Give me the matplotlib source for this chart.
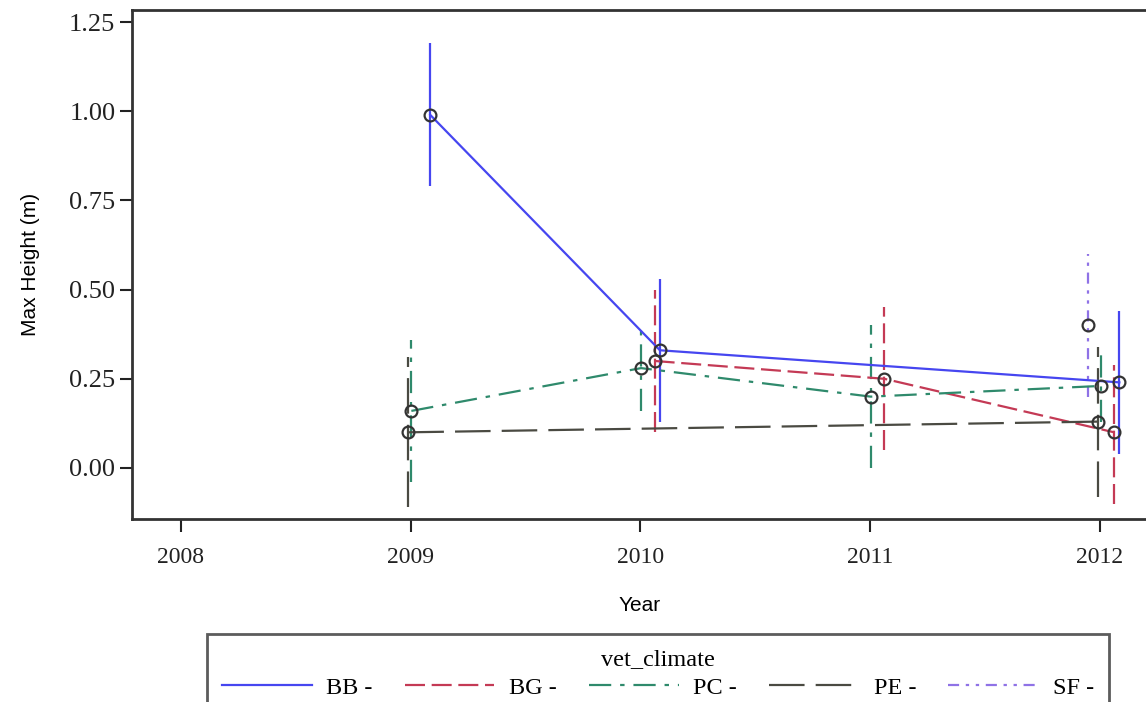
#!/usr/bin/env python3
"""Max height by year for each vet_climate group, with error bars."""

import matplotlib
matplotlib.use("Agg")
import matplotlib.pyplot as plt
from matplotlib.lines import Line2D

# Values
bb_years = [2009, 2010, 2012]
bb_mean = [0.99, 0.33, 0.24]
bb_low = [0.79, 0.13, 0.04]
bb_high = [1.19, 0.53, 0.44]

bg_years = [2010, 2011, 2012]
bg_mean = [0.30, 0.25, 0.10]
bg_low = [0.10, 0.05, -0.10]
bg_high = [0.50, 0.45, 0.29]

pc_years = [2009, 2010, 2011, 2012]
pc_mean = [0.16, 0.28, 0.20, 0.23]
pc_low = [-0.04, 0.16, 0.00, 0.13]
pc_high = [0.36, 0.39, 0.40, 0.33]

pe_years = [2009, 2012]
pe_mean = [0.10, 0.13]
pe_low = [-0.11, -0.08]
pe_high = [0.31, 0.34]

sf_years = [2012]
sf_mean = [0.40]
sf_low = [0.20]
sf_high = [0.60]

group_names = ["BB", "BG", "PC", "PE", "SF"]
year_ticks = [2008, 2009, 2010, 2011, 2012]
height_ticks = [0.00, 0.25, 0.50, 0.75, 1.00, 1.25]

# Styles: (colour, dash pattern, cluster offset in years)
styles = {
    "BB": ("#4646f0", "solid", 0.085),
    "BG": ("#c43a55", (0, (9, 3)), 0.062),
    "PC": ("#2f8a6c", (0, (10, 4, 2, 4)), 0.003),
    "PE": ("#4a4a42", (0, (16, 5)), -0.01),
    "SF": ("#8f72e6", (0, (5, 3, 1.5, 3, 1.5, 3)), -0.05),
}

series = {
    "BB": (bb_years, bb_mean, bb_low, bb_high),
    "BG": (bg_years, bg_mean, bg_low, bg_high),
    "PC": (pc_years, pc_mean, pc_low, pc_high),
    "PE": (pe_years, pe_mean, pe_low, pe_high),
    "SF": (sf_years, sf_mean, sf_low, sf_high),
}

SERIF = "Liberation Serif"
SANS = "Liberation Sans"

fig = plt.figure(figsize=(11.46, 7.02), dpi=100)
ax = fig.add_axes([0.1152, 0.2607, 0.8866, 0.7251])

for name in group_names:
    years, mean, low, high = series[name]
    color, ls, offset = styles[name]
    xs = [y + offset for y in years]
    ax.vlines(xs, low, high, colors=color, linestyles=[ls], linewidth=1.6, zorder=2)
    ax.plot(xs, mean, color=color, linestyle=ls, linewidth=1.6, zorder=3)
    ax.plot(xs, mean, linestyle="none", marker="o", markersize=8.5,
            fillstyle="none", markeredgecolor="#333333", markeredgewidth=1.6, zorder=4)

ax.set_xlim(2007.787, 2012.21)
ax.set_ylim(-0.143, 1.284)
ax.set_xticks(year_ticks)
ax.set_yticks(height_ticks)
ax.set_xticklabels([str(y) for y in year_ticks], fontfamily=SERIF, fontsize=17)
ax.set_yticklabels([f"{v:.2f}" for v in height_ticks], fontfamily=SERIF, fontsize=19)
ax.tick_params(axis="both", direction="out", length=9, width=1.5, colors="#222222")
ax.tick_params(axis="y", pad=3)
ax.tick_params(axis="x", pad=11)
for side in ("left", "bottom", "top", "right"):
    ax.spines[side].set_linewidth(2)
    ax.spines[side].set_color("#333333")

ax.set_xlabel("Year", fontfamily=SANS, fontsize=15, labelpad=20)
ax.set_ylabel("Max Height (m)", fontfamily=SANS, fontsize=15, labelpad=21)

handles = [
    Line2D([], [], color=styles[n][0], linestyle=styles[n][1], linewidth=1.6)
    for n in group_names
]
leg = fig.legend(
    handles, [f"{n} -" for n in group_names],
    loc="upper left", bbox_to_anchor=(207 / 1146, 1 - 634 / 702),
    ncol=5, title="vet_climate", frameon=True, fancybox=False,
    edgecolor="#333333", handlelength=3.7, handletextpad=0.6, columnspacing=1.32,
    prop={"family": SERIF, "size": 17.5}, borderpad=0.6, borderaxespad=0,
    labelspacing=0.3,
)
leg.get_title().set_fontfamily(SERIF)
leg.get_title().set_fontsize(17.5)
leg.get_frame().set_linewidth(2)

fig.savefig("out.png", dpi=100)
